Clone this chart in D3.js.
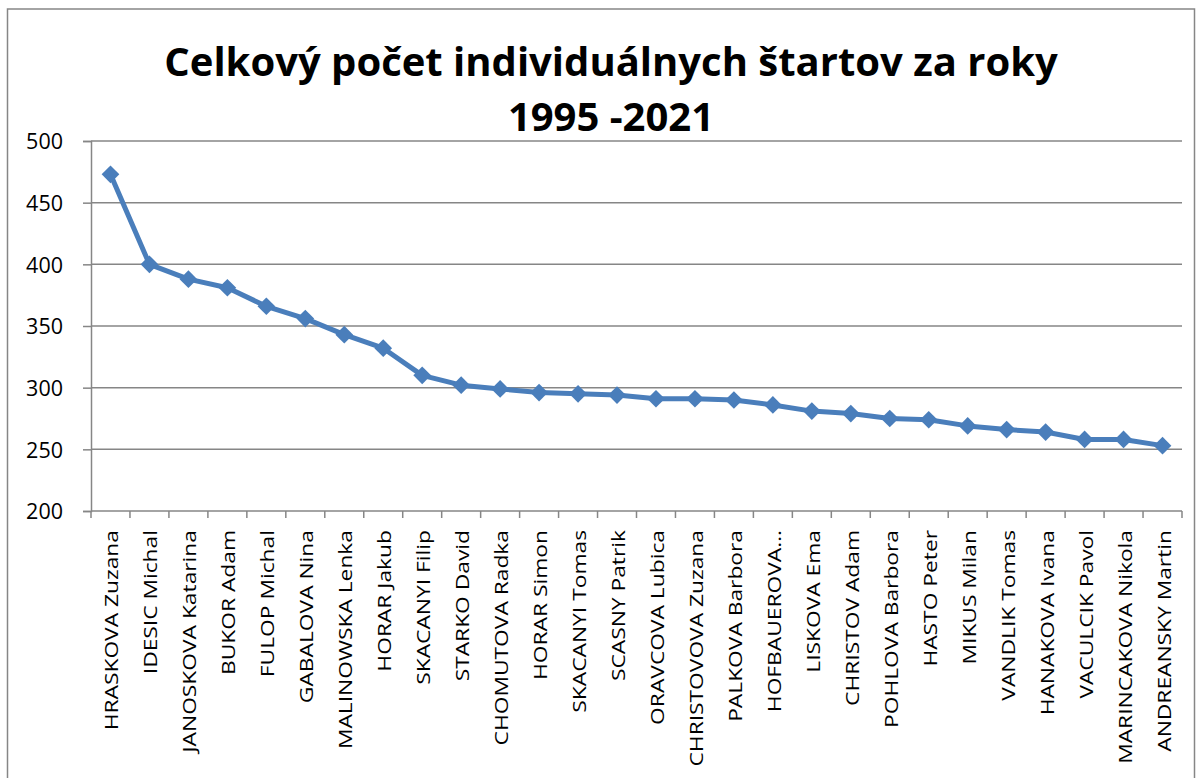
<!DOCTYPE html>
<html lang="sk">
<head>
<meta charset="UTF-8">
<title>Celkový počet individuálnych štartov</title>
<script src="https://cdn.jsdelivr.net/npm/d3@7"></script>
<style>
  body { margin: 0; background: #fff; }
  text { font-family: "Open Sans", "Noto Sans", sans-serif; fill: #000; }
</style>
</head>
<body>
<script>
// data
const names = [
  "HRASKOVA Zuzana", "IDESIC Michal", "JANOSKOVA Katarina", "BUKOR Adam",
  "FULOP Michal", "GABALOVA Nina", "MALINOWSKA Lenka", "HORAR Jakub",
  "SKACANYI Filip", "STARKO David", "CHOMUTOVA Radka", "HORAR Simon",
  "SKACANYI Tomas", "SCASNY Patrik", "ORAVCOVA Lubica", "CHRISTOVOVA Zuzana",
  "PALKOVA Barbora", "HOFBAUEROVA…", "LISKOVA Ema", "CHRISTOV Adam",
  "POHLOVA Barbora", "HASTO Peter", "MIKUS Milan", "VANDLIK Tomas",
  "HANAKOVA Ivana", "VACULCIK Pavol", "MARINCAKOVA Nikola", "ANDREANSKY Martin"
]
const starts = [
  473, 400, 388, 381, 366, 356, 343, 332, 310, 302, 299, 296, 295, 294,
  291, 291, 290, 286, 281, 279, 275, 274, 269, 266, 264, 258, 258, 253
]
const yTicks = [200, 250, 300, 350, 400, 450, 500]
const titleLines = ["Celkový počet individuálnych štartov za roky", "1995 -2021"]

const W = 1201, H = 778
const m = { left: 91, right: 1182, top: 141, bottom: 511 }
const grey = "#868686"
const blue = "#4a7ebb"

const svg = d3.select("body").append("svg").attr("width", W).attr("height", H)

// outer frame of the chart object
svg.append("rect")
  .attr("x", 7.5).attr("y", 9).attr("width", 1187).attr("height", 780)
  .attr("fill", "none").attr("stroke", grey).attr("stroke-width", 1.5)

svg.selectAll(".title").data(titleLines).enter()
  .append("text")
  .attr("class", "title")
  .attr("x", 611)
  .attr("y", (d, i) => 76 + i * 55)
  .attr("text-anchor", "middle")
  .attr("font-size", 40)
  .attr("font-weight", "bold")
  .text(d => d)

const x = d3.scaleBand().domain(names).range([m.left, m.right])
const y = d3.scaleLinear().domain([200, 500]).range([m.bottom, m.top])

// gridlines
svg.append("g").selectAll("line").data(yTicks.slice(1)).enter()
  .append("line")
  .attr("x1", m.left).attr("x2", m.right)
  .attr("y1", d => y(d)).attr("y2", d => y(d))
  .attr("stroke", grey).attr("stroke-width", 1.5)

const yAxis = svg.append("g")
  .attr("transform", `translate(${m.left},0)`)
  .call(d3.axisLeft(y).tickValues(yTicks).tickSize(8).tickPadding(20))
yAxis.select(".domain").attr("stroke", grey).attr("stroke-width", 1.5)
yAxis.selectAll(".tick line").attr("stroke", grey).attr("stroke-width", 1.5)
yAxis.selectAll("text")
  .attr("font-size", 21.5)
  .attr("dy", "0.36em")
  .style("font-family", "'Open Sans', sans-serif")

// category axis: ticks at band edges
const edges = names.map(n => x(n)).concat([m.right])
svg.append("line")
  .attr("x1", m.left).attr("x2", m.right)
  .attr("y1", m.bottom).attr("y2", m.bottom)
  .attr("stroke", grey).attr("stroke-width", 1.5)
svg.append("g").selectAll("line").data(edges).enter()
  .append("line")
  .attr("x1", d => d).attr("x2", d => d)
  .attr("y1", m.bottom).attr("y2", m.bottom + 7)
  .attr("stroke", grey).attr("stroke-width", 1.5)

svg.append("g").selectAll("text").data(names).enter()
  .append("text")
  .attr("transform", d => `translate(${x(d) + x.bandwidth() / 2 + 8},${m.bottom + 19}) rotate(-90) scale(1.2,1)`)
  .attr("text-anchor", "end")
  .attr("font-size", 19)
  .text(d => d)

// series
const pts = names.map((n, i) => [x(n) + x.bandwidth() / 2, y(starts[i])])

svg.append("path")
  .attr("d", d3.line()(pts))
  .attr("fill", "none")
  .attr("stroke", blue)
  .attr("stroke-width", 5)
  .attr("stroke-linejoin", "round")

svg.append("g").selectAll("path").data(pts).enter()
  .append("path")
  .attr("transform", d => `translate(${d[0]},${d[1]})`)
  .attr("d", d3.symbol(d3.symbolDiamond2, 200))
  .attr("fill", blue)
</script>
</body>
</html>
